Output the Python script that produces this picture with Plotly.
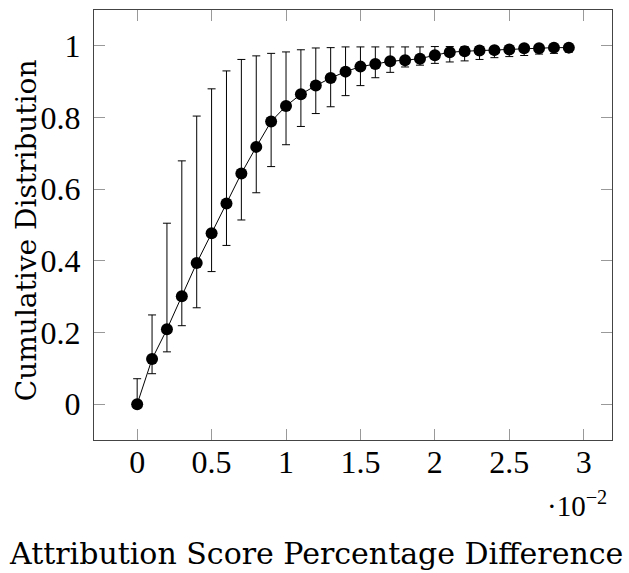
import plotly.graph_objects as go

x_vals = [0.000, 0.001, 0.002, 0.003, 0.004, 0.005, 0.006, 0.007, 0.008, 0.009,
          0.010, 0.011, 0.012, 0.013, 0.014, 0.015, 0.016, 0.017, 0.018, 0.019,
          0.020, 0.021, 0.022, 0.023, 0.024, 0.025, 0.026, 0.027, 0.028, 0.029]
y_vals = [0.000, 0.126, 0.209, 0.301, 0.394, 0.477, 0.560, 0.644, 0.718, 0.789,
          0.832, 0.865, 0.889, 0.910, 0.928, 0.942, 0.949, 0.957, 0.960, 0.964,
          0.974, 0.982, 0.985, 0.987, 0.988, 0.990, 0.993, 0.993, 0.995, 0.995]
y_upper = [0.071, 0.249, 0.505, 0.679, 0.804, 0.880, 0.930, 0.962, 0.972, 0.979,
           0.983, 0.989, 0.994, 0.995, 0.997, 0.997, 0.997, 0.997, 0.997, 0.997,
           0.998, 0.998, 0.998, 0.998, 0.998, 0.998, 0.998, 0.998, 0.998, 0.998]
y_lower = [0.000, 0.085, 0.146, 0.219, 0.269, 0.370, 0.443, 0.514, 0.590, 0.663,
           0.724, 0.775, 0.811, 0.830, 0.861, 0.889, 0.911, 0.926, 0.941, 0.946,
           0.951, 0.955, 0.958, 0.962, 0.967, 0.970, 0.973, 0.977, 0.979, 0.982]
x_tick_vals = [0, 0.005, 0.010, 0.015, 0.020, 0.025, 0.030]
x_tick_text = ["0", "0.5", "1", "1.5", "2", "2.5", "3"]
y_tick_vals = [0, 0.2, 0.4, 0.6, 0.8, 1.0]
y_tick_text = ["0", "0.2", "0.4", "0.6", "0.8", "1"]

err_plus = [u - y for u, y in zip(y_upper, y_vals)]
err_minus = [y - l for y, l in zip(y_vals, y_lower)]

TICK_FONT = "Liberation Serif"
TITLE_FONT = "DejaVu Serif"

fig = go.Figure()
fig.add_trace(go.Scatter(
    x=x_vals, y=y_vals, mode="lines+markers",
    line=dict(color="black", width=1),
    marker=dict(color="black", size=12),
    error_y=dict(type="data", symmetric=False, array=err_plus, arrayminus=err_minus,
                 color="black", thickness=1, width=4),
    showlegend=False,
))

axis_common = dict(showline=True, linecolor="#444", linewidth=1, mirror="ticks",
                   ticks="inside", ticklen=11, tickcolor="#999", tickwidth=1,
                   showgrid=False, zeroline=False,
                   tickfont=dict(family=TICK_FONT, size=32, color="black"))

fig.update_xaxes(range=[-0.0029, 0.0319], tickvals=x_tick_vals, ticktext=x_tick_text,
                 ticklabelstandoff=-6, **axis_common)
fig.update_yaxes(range=[-0.1, 1.1], tickvals=y_tick_vals, ticktext=y_tick_text,
                 ticklabelstandoff=6, **axis_common)

fig.update_layout(
    width=629, height=573,
    margin=dict(l=94, r=17, t=10, b=133),
    paper_bgcolor="white", plot_bgcolor="white",
    font=dict(family=TICK_FONT, color="black"),
    annotations=[
        dict(text="Cumulative Distribution", xref="paper", yref="paper", x=0, y=0.488,
             xanchor="center", yanchor="middle", xshift=-68, textangle=-90,
             showarrow=False, font=dict(family=TITLE_FONT, size=28)),
        dict(text="Attribution Score Percentage Difference", xref="paper", yref="paper",
             x=0.5, y=0, xanchor="center", yanchor="middle", xshift=-37, yshift=-113,
             showarrow=False, font=dict(family=TITLE_FONT, size=30)),
        dict(text="·10<sup>−2</sup>", xref="paper", yref="paper", x=1, y=0,
             xanchor="right", yanchor="middle", xshift=-3, yshift=-64,
             showarrow=False, font=dict(family=TICK_FONT, size=29)),
    ],
)

fig.write_html("out.html")
